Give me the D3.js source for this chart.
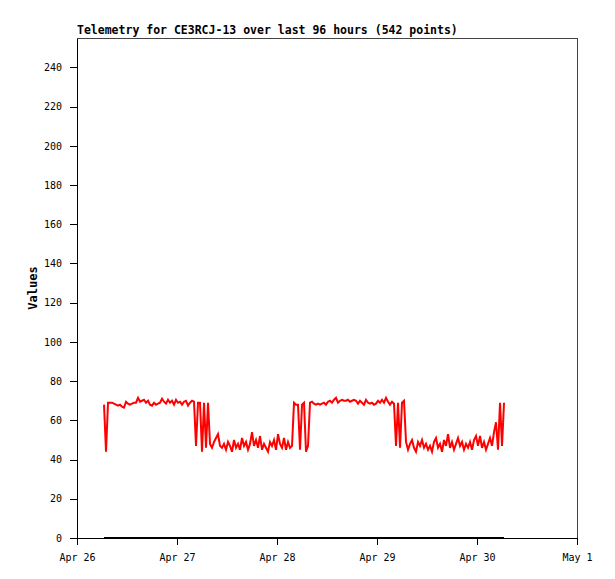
<!DOCTYPE html>
<html>
<head>
<meta charset="utf-8">
<script src="https://cdn.jsdelivr.net/npm/d3@7"></script>
<style>
  body { margin: 0; background: #fff; }
  text { font-family: "DejaVu Sans Mono", monospace; }
</style>
</head>
<body>
<svg id="chart" width="615" height="579"></svg>
<script>
/* chart data */
var title = "Telemetry for CE3RCJ-13 over last 96 hours (542 points)";
var yLabel = "Values";
var xStart = "2024-04-26T00:00";
var xEnd = "2024-05-01T00:00";
var yMax = 255;
var yTicks = [0, 20, 40, 60, 80, 100, 120, 140, 160, 180, 200, 220, 240];

// red channel, sampled at a regular interval from the first reading
var firstReading = "2024-04-26T06:29";
var readingStepMinutes = 28.8;
var redValues = [
  68, 44, 69, 69, 69, 68.5, 68, 67.5, 68, 67,
  66.5, 69.5, 68.5, 68, 68.5, 69, 69, 71.5, 69.5, 70,
  70.5, 69, 70, 68, 67.5, 69, 68, 68.5, 69, 71,
  69.5, 68.5, 70.5, 69, 70, 68, 70.5, 69, 69.5, 68,
  69.5, 70, 67.5, 69, 70, 69.5, 47, 69, 69, 44,
  69, 46, 69, 48, 46, 49, 51, 53, 47, 46,
  48, 45, 49, 47, 44, 50, 46, 48, 45, 51,
  47, 49, 45, 48, 54, 47, 50, 46, 52, 45,
  48, 46, 44, 49, 47, 50, 45, 53, 48, 46,
  51, 45, 49, 46, 47, 69, 68, 68, 45, 68,
  69, 44, 47, 69, 69.5, 68.5, 68, 68.5, 68, 68.5,
  69, 68, 69.5, 70, 69, 70.5, 71.5, 69, 70, 70.5,
  70, 70, 70.5, 69.5, 70, 70.5, 70, 68.5, 70, 69,
  68, 70.5, 69, 68.5, 69, 68, 68.5, 70, 69, 70.5,
  69, 71.5, 69.5, 68, 69.5, 68.5, 47, 69, 46, 69,
  70, 49, 45, 48, 50, 46, 44, 49, 47, 50,
  46, 48, 45, 47, 44, 49, 51, 46, 48, 44,
  50, 47, 53, 46, 49, 45, 48, 51, 47, 49,
  45, 48, 46, 49, 45, 50, 52, 47, 52, 46,
  49, 45, 48, 51, 47, 54, 59, 45, 69, 47,
  69
];

// black channel, flat at zero over the same window
var blackTimes = ["2024-04-26T06:29", "2024-04-30T06:29"];
var blackValues = [0, 0];

var margin = {top: 38, right: 38, bottom: 41, left: 77};
var width = 615 - margin.left - margin.right;
var height = 579 - margin.top - margin.bottom;

var parse = d3.isoParse;
var t0 = parse(firstReading).getTime();
var redData = redValues.map((v, i) => ({t: new Date(t0 + i * readingStepMinutes * 60000), v: v}));
var blackData = blackValues.map((v, i) => ({t: parse(blackTimes[i]), v: v}));

var svg = d3.select("#chart")
    .append("g")
    .attr("transform", "translate(" + margin.left + "," + margin.top + ")");

var xAxis = d3.scaleTime()
    .domain([parse(xStart), parse(xEnd)])
    .range([0, width]);

var yAxis = d3.scaleLinear()
    .domain([0, yMax])
    .range([height, 0]);

/* frame: top and right in dark grey */
svg.append("path")
    .attr("d", "M0,0.5H" + (width + 0.5) + "V" + height)
    .attr("fill", "none")
    .attr("stroke", "#444")
    .attr("shape-rendering", "crispEdges");

/* axes */
var gx = svg.append("g")
    .attr("transform", "translate(0," + height + ")")
    .call(d3.axisBottom(xAxis)
        .ticks(d3.timeDay.every(1))
        .tickFormat(d3.timeFormat("%b %-d"))
        .tickSize(7)
        .tickSizeOuter(0)
        .tickPadding(9));

var gy = svg.append("g")
    .call(d3.axisLeft(yAxis)
        .tickValues(yTicks)
        .tickSize(7)
        .tickSizeOuter(0)
        .tickPadding(8));

[gx, gy].forEach(g => {
    g.attr("font-family", "DejaVu Sans Mono").attr("font-size", 10);
    g.selectAll("path, line").attr("stroke", "#000").attr("shape-rendering", "crispEdges");
    g.selectAll("text").attr("fill", "#000");
});

var line = d3.line()
    .x(d => xAxis(d.t))
    .y(d => yAxis(d.v));

svg.append("path")
    .datum(blackData)
    .attr("d", line)
    .attr("fill", "none")
    .attr("stroke", "#000")
    .attr("stroke-width", 2);

svg.append("path")
    .datum(redData)
    .attr("d", line)
    .attr("fill", "none")
    .attr("stroke", "#ff0000")
    .attr("stroke-width", 2)
    .attr("stroke-linejoin", "miter");

/* title */
svg.append("text")
    .attr("x", 0)
    .attr("y", -4)
    .attr("font-size", 11.5)
    .attr("font-weight", "bold")
    .text(title);

/* y label */
svg.append("text")
    .attr("transform", "translate(-40," + (height / 2) + ") rotate(-90)")
    .attr("text-anchor", "middle")
    .attr("font-size", 12)
    .attr("font-weight", "bold")
    .text(yLabel);
</script>
</body>
</html>
